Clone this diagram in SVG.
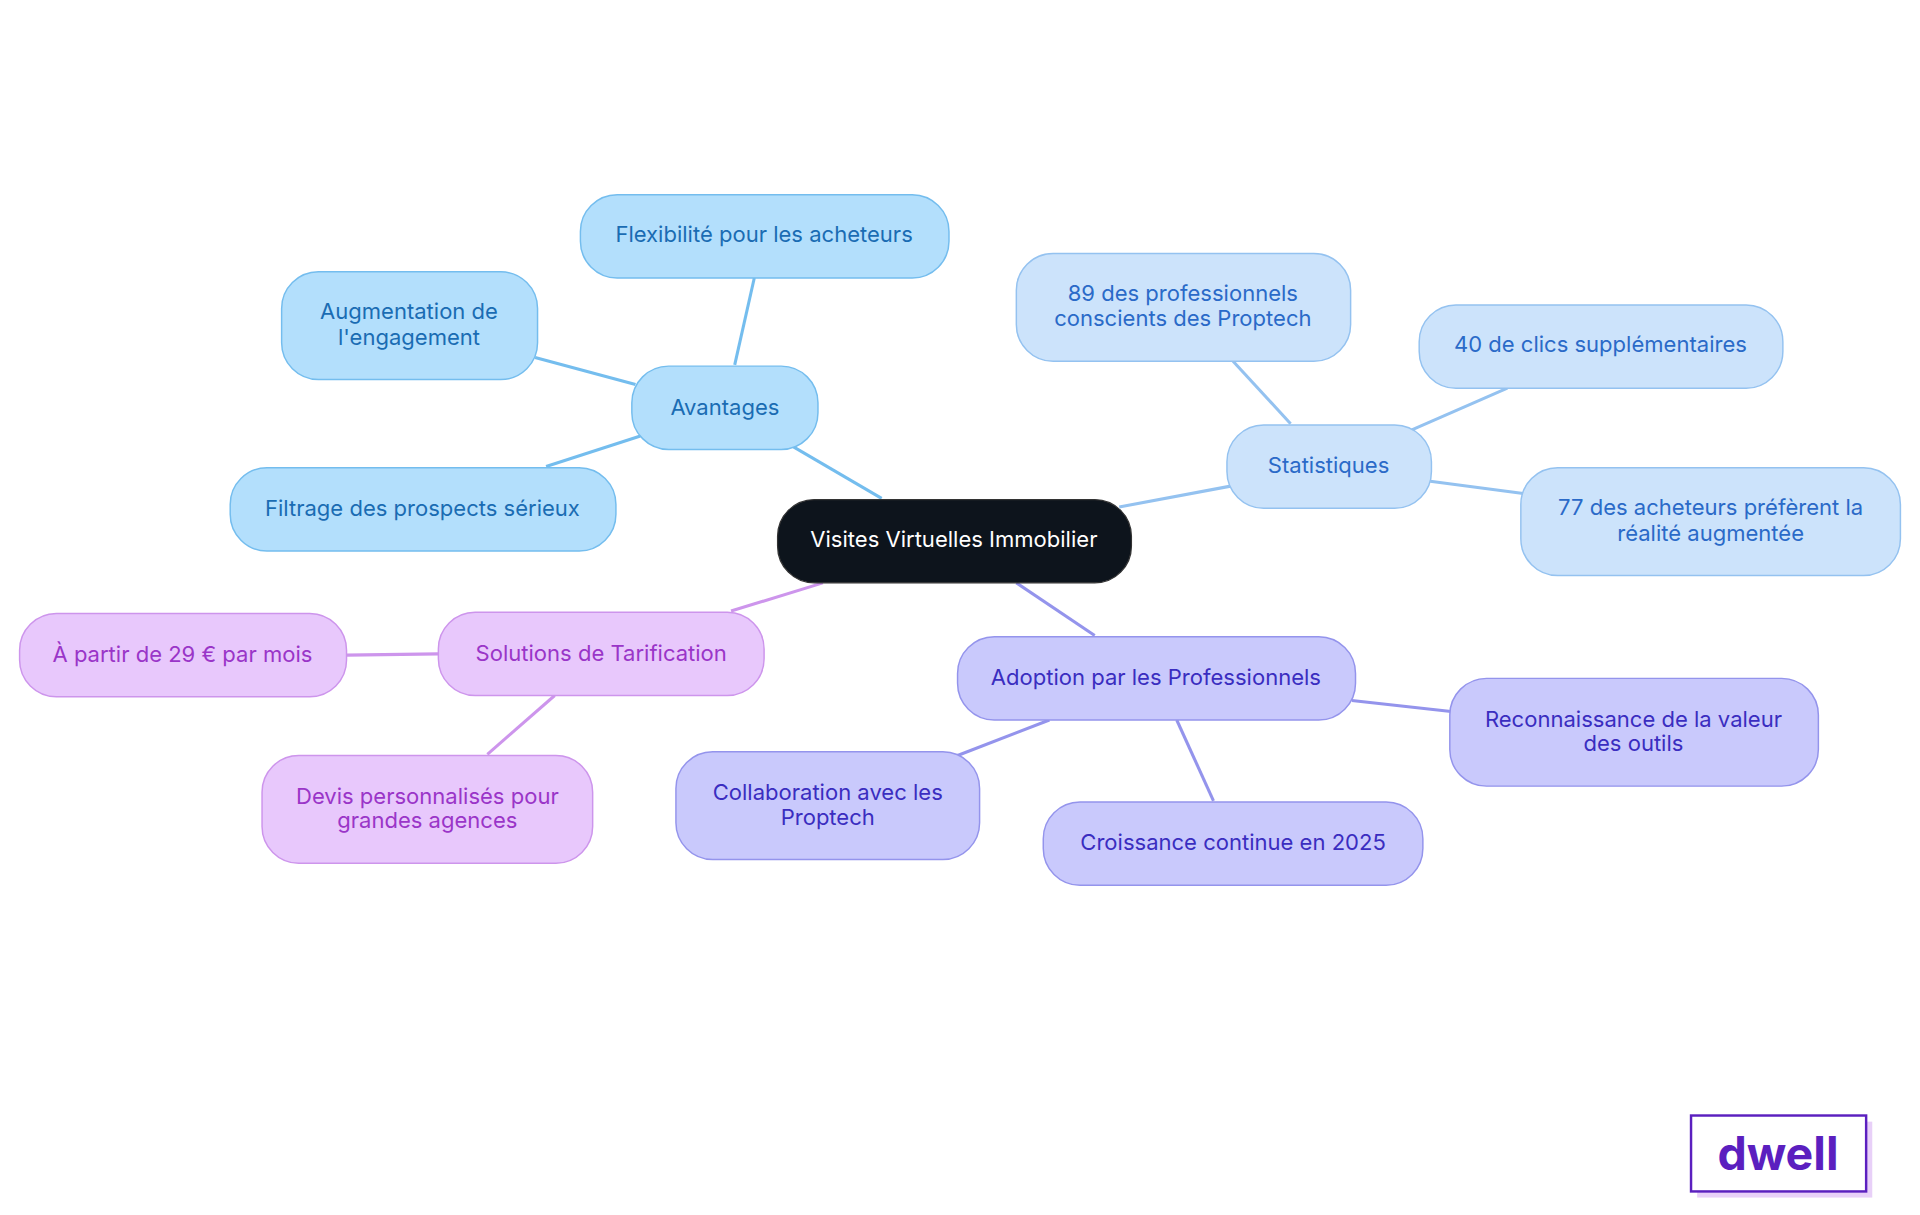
<svg xmlns="http://www.w3.org/2000/svg" width="1920" height="1215" viewBox="0 0 1920 1215">
<style>
text{font-family:Inter,"Noto Sans",sans-serif;font-size:18px;text-anchor:middle;dominant-baseline:central}
.b rect{fill:#b3dffc;stroke:#74bdee;stroke-width:1.2}.b text{fill:#1a6cb3}
.s rect{fill:#cce3fb;stroke:#94c2f0;stroke-width:1.2}.s text{fill:#2a6ac8}
.a rect{fill:#c9c9fc;stroke:#9494ec;stroke-width:1.2}.a text{fill:#3a2dc0}
.p rect{fill:#e8c8fc;stroke:#cd95ec;stroke-width:1.2}.p text{fill:#9a35c8}
.eb{stroke:#74bdee}.es{stroke:#94c2f0}.ea{stroke:#9494ec}.ep{stroke:#cd95ec}
#edges line{stroke-width:2.5}
</style>
<rect width="1920" height="1215" fill="#fff"/>
<g transform="scale(1.2245)">
<g id="edges">
<line class="eb" x1="720" y1="407" x2="648" y2="365"/>
<line class="eb" x1="600" y1="298" x2="616" y2="227"/>
<line class="eb" x1="519" y1="314" x2="437" y2="292"/>
<line class="eb" x1="523" y1="356" x2="446" y2="381"/>
<line class="es" x1="914" y1="414" x2="1005" y2="397"/>
<line class="es" x1="1054" y1="346" x2="1007" y2="295"/>
<line class="es" x1="1153" y1="351" x2="1231" y2="317"/>
<line class="es" x1="1168" y1="393" x2="1244" y2="403"/>
<line class="ea" x1="830" y1="476" x2="894" y2="519"/>
<line class="ea" x1="1104" y1="572" x2="1185" y2="581"/>
<line class="ea" x1="961" y1="588" x2="991" y2="654"/>
<line class="ea" x1="857" y1="588" x2="782" y2="617"/>
<line class="ep" x1="672" y1="476" x2="597" y2="499"/>
<line class="ep" x1="358" y1="534" x2="283" y2="535"/>
<line class="ep" x1="453" y1="568" x2="398" y2="616"/>
</g>
<g id="center"><rect x="635" y="408" width="289" height="68" rx="30" fill="#0d141c" stroke="#333" stroke-width="1"/><text x="779" y="440" fill="#fff">Visites Virtuelles Immobilier</text></g>
<g id="avantages" class="b"><rect x="516" y="299" width="152" height="68" rx="30"/><text x="592" y="332">Avantages</text></g>
<g id="flex" class="b"><rect x="474" y="159" width="301" height="68" rx="30"/><text x="624" y="191">Flexibilité pour les acheteurs</text></g>
<g id="aug" class="b"><rect x="230" y="222" width="209" height="88" rx="30"/><text x="334" y="254">Augmentation de</text><text x="334" y="275">l'engagement</text></g>
<g id="filt" class="b"><rect x="188" y="382" width="315" height="68" rx="30"/><text x="345" y="415">Filtrage des prospects sérieux</text></g>
<g id="stat" class="s"><rect x="1002" y="347" width="167" height="68" rx="30"/><text x="1085" y="380">Statistiques</text></g>
<g id="s89" class="s"><rect x="830" y="207" width="273" height="88" rx="30"/><text x="966" y="239">89 des professionnels</text><text x="966" y="260">conscients des Proptech</text></g>
<g id="s40" class="s"><rect x="1159" y="249" width="297" height="68" rx="30"/><text x="1307" y="281">40 de clics supplémentaires</text></g>
<g id="s77" class="s"><rect x="1242" y="382" width="310" height="88" rx="30"/><text x="1397" y="414">77 des acheteurs préfèrent la</text><text x="1397" y="435">réalité augmentée</text></g>
<g id="adopt" class="a"><rect x="782" y="520" width="325" height="68" rx="30"/><text x="944" y="553">Adoption par les Professionnels</text></g>
<g id="rec" class="a"><rect x="1184" y="554" width="301" height="88" rx="30"/><text x="1334" y="587">Reconnaissance de la valeur</text><text x="1334" y="607">des outils</text></g>
<g id="crois" class="a"><rect x="852" y="655" width="310" height="68" rx="30"/><text x="1007" y="688">Croissance continue en 2025</text></g>
<g id="collab" class="a"><rect x="552" y="614" width="248" height="88" rx="30"/><text x="676" y="647">Collaboration avec les</text><text x="676" y="667">Proptech</text></g>
<g id="sol" class="p"><rect x="358" y="500" width="266" height="68" rx="30"/><text x="491" y="533">Solutions de Tarification</text></g>
<g id="apartir" class="p"><rect x="16" y="501" width="267" height="68" rx="30"/><text x="149" y="534">À partir de 29 € par mois</text></g>
<g id="devis" class="p"><rect x="214" y="617" width="270" height="88" rx="30"/><text x="349" y="650">Devis personnalisés pour</text><text x="349" y="670">grandes agences</text></g>
<g id="logo"><rect x="1386" y="916" width="143" height="62" fill="#e8d0f8"/><rect x="1381" y="911" width="143" height="62" fill="#fff" stroke="#5b1fbf" stroke-width="2"/><text x="1452" y="942" style="font-size:38px;font-weight:700;fill:#5b1fbf">dwell</text></g>
</g>
</svg>
